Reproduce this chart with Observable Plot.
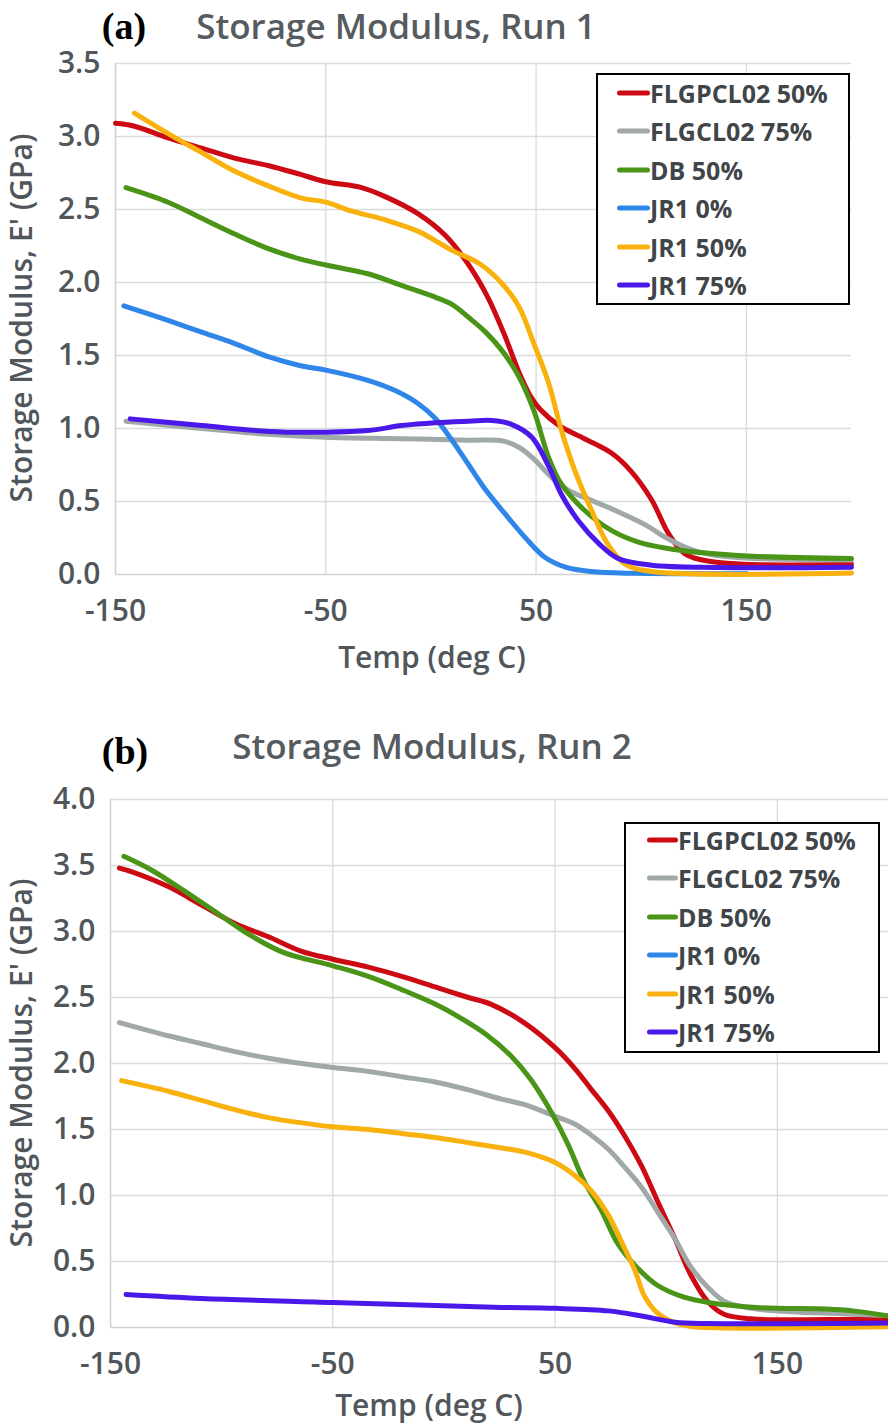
<!DOCTYPE html>
<html><head><meta charset="utf-8">
<script src="https://cdn.jsdelivr.net/npm/d3@7"></script>
<script src="https://cdn.jsdelivr.net/npm/@observablehq/plot@0.6"></script>
<style>
body{margin:0;background:#fff;}
#page{position:relative;width:888px;height:1425px;overflow:hidden;font-family:"Open Sans",sans-serif;background:#fff;}
.abs{position:absolute;white-space:nowrap;line-height:1;}
.title{font-size:35px;font-weight:600;color:#555b5e;transform:translate(-50%,-50%);}
.plabel{font-family:"Liberation Serif","DejaVu Serif",serif;font-weight:bold;font-size:38px;color:#000;transform:translate(-50%,-50%);}
.axlab{font-size:30px;font-weight:600;color:#50565a;transform:translate(-50%,-50%);}
.ylab{font-size:30px;font-weight:600;color:#50565a;transform:translate(-50%,-50%) rotate(-90deg);}
.legend{position:absolute;border:2.5px solid #000;background:#fff;box-sizing:border-box;}
.lswatch{position:absolute;height:5px;border-radius:3px;transform:translateY(-50%);}
.ltext{position:absolute;font-size:25px;font-weight:700;color:#3f4548;line-height:1;transform:translateY(-50%);white-space:nowrap;}
.svgwrap{position:absolute;left:0;}
</style>
</head><body>
<div id="page"></div>
<script>
// ---------- data ----------
const seriesNames = ["FLGPCL02 50%", "FLGCL02 75%", "DB 50%", "JR1 0%", "JR1 50%", "JR1 75%"];
const seriesColors = ["#cc0a14", "#a0a9a8", "#4a9418", "#2f86e8", "#f9b10e", "#4a18e8"];
const xTicks = [-150, -50, 50, 150];
const yTicksRun1 = [0, 0.5, 1.0, 1.5, 2.0, 2.5, 3.0, 3.5];
const yTicksRun2 = [0, 0.5, 1.0, 1.5, 2.0, 2.5, 3.0, 3.5, 4.0];

// Run 1: [Temp (deg C), E' (GPa)]
const run1_FLGPCL02_50 = [[-150,3.09],[-141,3.07],[-125,2.99],[-109,2.92],[-93,2.85],[-77,2.80],[-62,2.74],[-50,2.69],[-33,2.65],[-22,2.59],[-6,2.47],[7,2.32],[18,2.12],[27,1.90],[35,1.64],[42,1.38],[47,1.23],[52,1.13],[61,1.02],[73,0.93],[86,0.83],[95,0.71],[105,0.51],[113,0.28],[121,0.14],[134,0.087],[153,0.068],[200,0.07]];
const run1_FLGCL02_75 = [[-145,1.05],[-109,1.00],[-77,0.96],[-50,0.94],[-14,0.93],[18,0.92],[34,0.915],[42,0.87],[49,0.79],[57,0.67],[65,0.58],[76,0.51],[89,0.43],[102,0.34],[112,0.25],[124,0.17],[136,0.13],[153,0.11],[200,0.10]];
const run1_DB_50 = [[-145,2.65],[-125,2.55],[-109,2.44],[-93,2.33],[-77,2.23],[-62,2.16],[-50,2.12],[-30,2.06],[-14,1.98],[2,1.90],[10,1.85],[18,1.76],[26,1.66],[34,1.53],[42,1.35],[49,1.12],[56,0.80],[62,0.62],[73,0.44],[86,0.30],[99,0.22],[112,0.18],[128,0.15],[153,0.125],[200,0.11]];
const run1_JR1_0 = [[-146,1.84],[-125,1.74],[-109,1.66],[-93,1.58],[-77,1.49],[-62,1.43],[-50,1.40],[-30,1.33],[-17,1.26],[-6,1.17],[2,1.07],[10,0.92],[18,0.75],[26,0.58],[35,0.42],[45,0.25],[54,0.12],[64,0.05],[76,0.02],[97,0.008],[150,0.005]];
const run1_JR1_50 = [[-141,3.16],[-125,3.02],[-109,2.89],[-93,2.76],[-77,2.66],[-62,2.58],[-50,2.55],[-38,2.49],[-22,2.43],[-6,2.35],[10,2.22],[23,2.13],[34,1.99],[42,1.83],[49,1.58],[56,1.31],[62,0.99],[69,0.69],[77,0.42],[84,0.21],[92,0.075],[105,0.02],[200,0.01]];
const run1_JR1_75 = [[-143,1.066],[-109,1.02],[-77,0.98],[-50,0.975],[-30,0.986],[-14,1.02],[2,1.04],[18,1.05],[29,1.055],[38,1.03],[48,0.94],[56,0.74],[62,0.55],[70,0.37],[80,0.21],[89,0.11],[105,0.064],[136,0.048],[200,0.05]];

// Run 2
const run2_FLGPCL02_50 = [[-146,3.48],[-140,3.45],[-124,3.34],[-109,3.20],[-94,3.06],[-79,2.96],[-64,2.85],[-50,2.79],[-34,2.73],[-19,2.66],[-4,2.58],[11,2.50],[21,2.45],[36,2.31],[50,2.12],[59,1.96],[66,1.81],[74,1.64],[81,1.46],[89,1.22],[96,0.96],[104,0.67],[111,0.40],[119,0.19],[126,0.10],[138,0.066],[172,0.06],[200,0.066]];
const run2_FLGCL02_75 = [[-146,2.31],[-124,2.21],[-109,2.15],[-94,2.09],[-79,2.04],[-64,2.00],[-50,1.97],[-34,1.94],[-19,1.90],[-4,1.86],[11,1.80],[26,1.73],[36,1.69],[50,1.60],[59,1.54],[66,1.46],[74,1.35],[81,1.22],[89,1.06],[96,0.88],[104,0.67],[111,0.46],[119,0.30],[126,0.20],[138,0.145],[156,0.12],[179,0.105],[200,0.09]];
const run2_DB_50 = [[-144,3.57],[-132,3.47],[-117,3.31],[-102,3.14],[-87,2.97],[-72,2.84],[-50,2.74],[-34,2.66],[-19,2.56],[-4,2.45],[7,2.35],[19,2.22],[30,2.06],[39,1.88],[48,1.64],[56,1.38],[63,1.11],[71,0.88],[78,0.64],[86,0.47],[96,0.32],[108,0.23],[119,0.19],[142,0.15],[172,0.14],[184,0.126],[200,0.087]];
const run2_JR1_0 = [];
const run2_JR1_50 = [[-145,1.87],[-124,1.79],[-109,1.72],[-94,1.65],[-79,1.59],[-64,1.55],[-50,1.52],[-34,1.50],[-19,1.47],[-4,1.44],[11,1.40],[26,1.36],[36,1.33],[50,1.25],[59,1.15],[66,1.04],[74,0.85],[81,0.61],[86,0.43],[90,0.245],[96,0.11],[104,0.034],[111,0.008],[200,0.005]];
const run2_JR1_75 = [[-143,0.25],[-109,0.22],[-50,0.19],[-4,0.166],[26,0.152],[50,0.145],[74,0.126],[89,0.087],[104,0.04],[119,0.03],[200,0.034]];

const run1 = [run1_FLGPCL02_50, run1_FLGCL02_75, run1_DB_50, run1_JR1_0, run1_JR1_50, run1_JR1_75];
const run2 = [run2_FLGPCL02_50, run2_FLGCL02_75, run2_DB_50, run2_JR1_0, run2_JR1_50, run2_JR1_75];

// ---------- drawing ----------
const page = document.getElementById("page");
const textColor = "#50565a";
const gridColor = "#d9dcdc";

function makePlot(series, yTicks, cfg) {
  const lines = series.map((pts, i) => Plot.line(pts, {
    x: d => d[0], y: d => d[1], stroke: seriesColors[i], strokeWidth: 5,
    curve: "catmull-rom", strokeLinecap: "round", strokeLinejoin: "round"
  }));
  return Plot.plot({
    width: 888, height: cfg.height,
    marginTop: cfg.mt, marginBottom: cfg.mb, marginLeft: cfg.ml, marginRight: cfg.mr,
    x: {domain: [-150, 200]},
    y: {domain: [0, yTicks[yTicks.length - 1]]},
    style: {fontFamily: "'Open Sans', sans-serif", background: "transparent", overflow: "visible"},
    marks: [
      Plot.gridX(xTicks.slice(1), {stroke: gridColor, strokeOpacity: 1, strokeWidth: 1.3}),
      Plot.gridY(yTicks.slice(1), {stroke: gridColor, strokeOpacity: 1, strokeWidth: 1.3}),
      Plot.ruleX([-150], {stroke: "#cfd3d3", strokeWidth: 1.6}),
      Plot.ruleY([0], {stroke: "#cfd3d3", strokeWidth: 1.6}),
      Plot.axisX(xTicks, {tickSize: 0, tickPadding: 25, fontSize: 30, fontWeight: 600, fill: textColor, label: null, tickFormat: d => String(d)}),
      Plot.axisY(yTicks, {tickSize: 0, tickPadding: 15, fontSize: 30, fontWeight: 600, fill: textColor, label: null, tickFormat: d3.format(".1f")}),
      ...lines
    ]
  });
}

function addText(cls, txt, x, y) {
  const d = document.createElement("div");
  d.className = "abs " + cls;
  d.textContent = txt;
  d.style.left = x + "px";
  d.style.top = y + "px";
  page.appendChild(d);
}

function addLegend(left, top, w, h, rowStart, swL, swR) {
  const box = document.createElement("div");
  box.className = "legend";
  Object.assign(box.style, {left: left + "px", top: top + "px", width: w + "px", height: h + "px"});
  seriesNames.forEach((name, i) => {
    const cy = rowStart + i * 38.4;
    const sw = document.createElement("div");
    sw.className = "lswatch";
    Object.assign(sw.style, {left: swL + "px", width: (swR - swL) + "px", top: cy + "px", background: seriesColors[i]});
    box.appendChild(sw);
    const t = document.createElement("div");
    t.className = "ltext";
    t.textContent = name;
    Object.assign(t.style, {left: swR + "px", top: cy + "px"});
    box.appendChild(t);
  });
  page.appendChild(box);
}

// Panel (a)
const wrapA = document.createElement("div");
wrapA.className = "svgwrap"; wrapA.style.top = "0px";
wrapA.appendChild(makePlot(run1, yTicksRun1, {height: 700, mt: 63, mb: 126, ml: 115, mr: 37}));
page.appendChild(wrapA);
addText("plabel", "(a)", 124, 26);
addText("title", "Storage Modulus, Run 1", 396, 24.5);
addText("axlab", "Temp (deg C)", 432, 657);
addText("ylab", "Storage Modulus, E' (GPa)", 21, 318);
addLegend(596, 73, 254, 232, 18, 19, 52);

// Panel (b)
const wrapB = document.createElement("div");
wrapB.className = "svgwrap"; wrapB.style.top = "700px";
wrapB.appendChild(makePlot(run2, yTicksRun2, {height: 725, mt: 99, mb: 98, ml: 110, mr: 0}));
page.appendChild(wrapB);
addText("plabel", "(b)", 125, 751);
addText("title", "Storage Modulus, Run 2", 432, 745);
addText("axlab", "Temp (deg C)", 429, 1405);
addText("ylab", "Storage Modulus, E' (GPa)", 21, 1063);
addLegend(624, 822, 256, 231, 16, 21, 52);
</script>
</body></html>
